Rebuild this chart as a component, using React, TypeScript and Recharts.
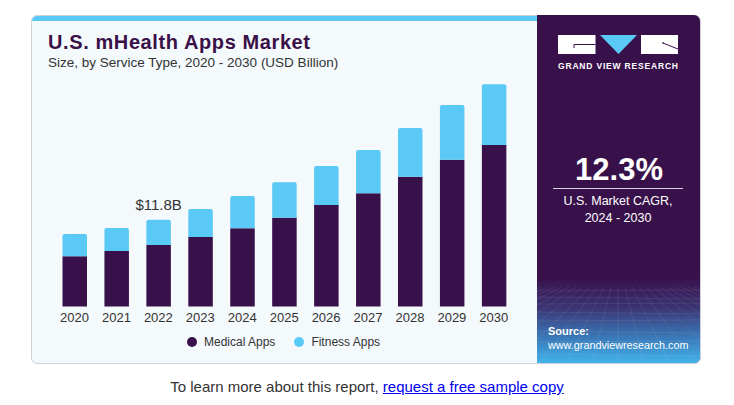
import { Bar, BarChart, LabelList, XAxis, YAxis } from "recharts";

const years = ["2020", "2021", "2022", "2023", "2024", "2025", "2026", "2027", "2028", "2029", "2030"];
const medicalApps = [6.82, 7.54, 8.36, 9.44, 10.63, 12.07, 13.79, 15.38, 17.64, 19.95, 21.94];
const fitnessApps = [3.03, 3.13, 3.44, 3.81, 4.38, 4.81, 5.3, 5.88, 6.61, 7.43, 8.25];
const calloutYear = "2022";

const seriesNames = ["Medical Apps", "Fitness Apps"];
const cagrValue = "12.3%";
const cagrLines = ["U.S. Market CAGR,", "2024 - 2030"];

const PURPLE = "#38114a";
const BLUE = "#5bc9f5";
const FONT = "'Liberation Sans', Arial, sans-serif";

const data = years.map((year, i) => ({
  year,
  medical: medicalApps[i],
  fitness: fitnessApps[i],
  total: medicalApps[i] + fitnessApps[i],
}));

function TotalLabel(props: any) {
  const { x, y, width, index } = props;
  const row = data[index];
  if (!row || row.year !== calloutYear) return null;
  return (
    <text
      x={x + width / 2}
      y={y - 10}
      textAnchor="middle"
      fontSize={15}
      fill="#333"
      fontFamily={FONT}
    >
      {`$${row.total.toFixed(1)}B`}
    </text>
  );
}

function SidePanel() {
  // perspective mesh in the lower part of the panel
  const meshLines: JSX.Element[] = [];
  const rows = [276, 282, 289, 297, 306, 316, 327, 339];
  rows.forEach((y, i) => (
    meshLines.push(<line key={"h" + i} x1={0} x2={163} y1={y} y2={y + (i % 2 ? 2 : -1)} />)
  ));
  for (let k = -12; k <= 12; k++) {
    meshLines.push(<line key={"v" + k} x1={81 + k * 7} y1={272} x2={81 + k * 26} y2={348} />);
  }
  return (
    <svg width={163} height={348} style={{ position: "absolute", left: 537, top: 15 }}>
      <defs>
        <linearGradient id="panelFade" x1="0" y1="0" x2="0" y2="1">
          <stop offset="0%" stopColor={PURPLE} />
          <stop offset="35%" stopColor="#3b3372" />
          <stop offset="70%" stopColor="#3a78b8" />
          <stop offset="100%" stopColor="#42b3ea" />
        </linearGradient>
        <clipPath id="panelClip">
          <path d="M0,0 H157 A6,6 0 0 1 163,6 V342 A6,6 0 0 1 157,348 H0 Z" />
        </clipPath>
      </defs>
      <g clipPath="url(#panelClip)">
        <rect x={0} y={0} width={163} height={348} fill={PURPLE} />
        <rect x={0} y={262} width={163} height={86} fill="url(#panelFade)" />
        <g stroke="#ffffff" strokeOpacity={0.1} strokeWidth={0.8}>
          {meshLines}
        </g>
      </g>
      {/* logo */}
      <g transform="translate(21,20)">
        <rect x={0} y={0} width={37.5} height={19} fill="#fff" />
        <path d="M16,9.5 H37.5 M16,9.5 V13" stroke={PURPLE} strokeWidth={1} fill="none" />
        <polygon points="42,0 79,0 60.5,19" fill={BLUE} />
        <rect x={83} y={0} width={37} height={19} fill="#fff" />
        <path d="M105,8 L120,14 M104,8 H106" stroke={PURPLE} strokeWidth={1} fill="none" />
        <text
          x={0}
          y={34}
          fill="#fff"
          fontSize={8.5}
          fontWeight={700}
          fontFamily={FONT}
          textLength={120}
          lengthAdjust="spacing"
        >
          GRAND VIEW RESEARCH
        </text>
      </g>
      <text x={82} y={165} textAnchor="middle" fill="#fff" fontSize={31} fontWeight={700} fontFamily={FONT}>
        {cagrValue}
      </text>
      <line x1={16} x2={146} y1={173.5} y2={173.5} stroke="#d8d3de" strokeWidth={1} />
      <text x={81} y={190} textAnchor="middle" fill="#fff" fontSize={12.5} fontFamily={FONT}>
        {cagrLines[0]}
      </text>
      <text x={81} y={207} textAnchor="middle" fill="#fff" fontSize={12.5} fontFamily={FONT}>
        {cagrLines[1]}
      </text>
      <text x={11} y={320} fill="#fff" fontSize={11} fontWeight={700} fontFamily={FONT}>
        Source:
      </text>
      <text x={11} y={334} fill="#fff" fontSize={10.8} fontFamily={FONT}>
        www.grandviewresearch.com
      </text>
    </svg>
  );
}

export default function App() {
  return (
    <div style={{ position: "absolute", left: 0, top: 0, width: 734, height: 405, background: "#fff", fontFamily: FONT }}>
      {/* card */}
      <div
        style={{
          position: "absolute",
          left: 31,
          top: 15,
          width: 668,
          height: 347,
          border: "1px solid #cfd0da",
          borderRadius: 6,
          background: "#f4f9fc",
          overflow: "hidden",
        }}
      >
        <div style={{ position: "absolute", left: 0, top: 0, width: 510, height: 5, background: BLUE }} />
      </div>

      <div
        style={{
          position: "absolute",
          left: 48,
          top: 31,
          fontSize: 20,
          fontWeight: 700,
          color: "#3a1048",
          whiteSpace: "nowrap",
          letterSpacing: 0.6,
        }}
      >
        U.S. mHealth Apps Market
      </div>
      <div style={{ position: "absolute", left: 48, top: 55, fontSize: 13.5, color: "#333", whiteSpace: "nowrap" }}>
        Size, by Service Type, 2020 - 2030 (USD Billion)
      </div>

      <div style={{ position: "absolute", left: 32, top: 66 }}>
        <BarChart
          width={505}
          height={294}
          data={data}
          margin={{ top: 5, right: 22.2, bottom: 33.5, left: 21.5 }}
        >
          <XAxis
            dataKey="year"
            axisLine={false}
            tickLine={false}
            tickMargin={0}
            height={20}
            interval={0}
            tick={{ fill: "#333", fontSize: 13, fontFamily: FONT }}
          />
          <YAxis hide domain={[0, 32]} />
          <Bar dataKey="medical" stackId="a" fill={PURPLE} barSize={24.5} isAnimationActive={false} />
          <Bar
            dataKey="fitness"
            stackId="a"
            fill={BLUE}
            barSize={24.5}
            radius={[2, 2, 0, 0]}
            isAnimationActive={false}
          >
            <LabelList dataKey="total" content={<TotalLabel />} />
          </Bar>
        </BarChart>
      </div>

      {/* legend */}
      <div
        style={{
          position: "absolute",
          left: 187,
          top: 335,
          display: "flex",
          alignItems: "center",
          fontSize: 12,
          color: "#333",
          whiteSpace: "nowrap",
        }}
      >
        {seriesNames.map((name, i) => (
          <div key={name} style={{ display: "flex", alignItems: "center", marginRight: 19 }}>
            <span
              style={{
                display: "inline-block",
                width: 10,
                height: 10,
                borderRadius: 5,
                background: i === 0 ? PURPLE : BLUE,
                marginRight: 7,
              }}
            />
            {name}
          </div>
        ))}
      </div>

      <SidePanel />

      <div
        style={{
          position: "absolute",
          left: 0,
          top: 378,
          width: 734,
          textAlign: "center",
          fontSize: 15,
          color: "#333",
        }}
      >
        To learn more about this report, <a href="#" style={{ color: "#0000ee" }}>request a free sample copy</a>
      </div>
    </div>
  );
}
